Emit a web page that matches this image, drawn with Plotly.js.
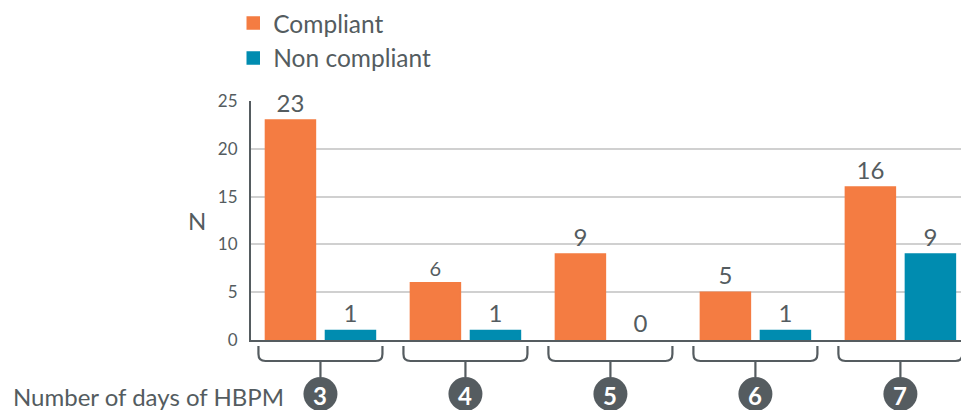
<!DOCTYPE html>
<html>
<head>
<meta charset="utf-8">
<script src="https://cdn.plot.ly/plotly-3.0.1.min.js"></script>
<style>html,body{margin:0;padding:0;background:#fff;}#chart{width:961px;height:410px;}</style>
</head>
<body>
<div id="chart"></div>
<script>
var categories = ['3', '4', '5', '6', '7'];
var compliant = [23, 6, 9, 5, 16];
var nonCompliant = [1, 1, 0, 1, 9];
var seriesNames = ['Compliant', 'Non compliant'];
var yTicks = [0, 5, 10, 15, 20, 25];

var FONT = 'Lato, "Open Sans", sans-serif';
var TXT = '#545c60';
var ORANGE = '#f47c42';
var TEAL = '#008cb0';

var compliantLabelSizes = [24, 20, 24, 24, 24];

function outlineWidths(vals) {
  return vals.map(function (v) { return v === 0 ? 0 : 1.5; });
}

var traces = [
  {
    type: 'bar', name: seriesNames[0], x: categories, y: compliant,
    marker: {color: ORANGE, line: {color: ORANGE, width: outlineWidths(compliant)}},
    text: compliant.map(String), textposition: 'outside', cliponaxis: false,
    textfont: {family: FONT, size: compliantLabelSizes, color: TXT},
    legendgroup: 'a', hoverinfo: 'none'
  },
  {
    type: 'bar', name: seriesNames[1], x: categories, y: nonCompliant,
    marker: {color: TEAL, line: {color: TEAL, width: outlineWidths(nonCompliant)}},
    text: nonCompliant.map(String), textposition: 'outside', cliponaxis: false,
    textfont: {family: FONT, size: 24, color: TXT},
    legendgroup: 'b', hoverinfo: 'none'
  }
];

var shapes = [];
var annotations = [];
categories.forEach(function (c, i) {
  shapes.push({
    type: 'path', xref: 'x', yref: 'paper', xsizemode: 'pixel', ysizemode: 'pixel',
    xanchor: i, yanchor: 0,
    path: 'M -62 -6 L -62 -14 Q -62 -21 -55 -21 L 55 -21 Q 62 -21 62 -14 L 62 -6 M 0 -21 L 0 -37',
    line: {color: '#555c60', width: 2.2}
  });
  shapes.push({
    type: 'circle', xref: 'x', yref: 'paper', xsizemode: 'pixel', ysizemode: 'pixel',
    xanchor: i, yanchor: 0, x0: -17, x1: 17, y0: -37, y1: -71,
    fillcolor: '#555c60', line: {width: 0}
  });
  annotations.push({
    xref: 'x', yref: 'paper', x: i, y: 0, yshift: -55, showarrow: false,
    text: '<b>' + c + '</b>', font: {family: FONT, size: 24, color: '#ffffff'},
    xanchor: 'center', yanchor: 'middle'
  });
});
annotations.push({
  xref: 'paper', yref: 'paper', x: 0, y: 0, xshift: -240, yshift: -56, showarrow: false,
  text: 'Number of days of HBPM', font: {family: FONT, size: 24, color: TXT},
  xanchor: 'left', yanchor: 'middle'
});
annotations.push({
  xref: 'paper', yref: 'paper', x: 0, y: 0.5, xshift: -54, showarrow: false,
  text: 'N', font: {family: FONT, size: 24, color: TXT},
  xanchor: 'center', yanchor: 'middle'
});

var layout = {
  width: 961, height: 410,
  margin: {l: 251, r: 0, t: 99, b: 70, pad: 0},
  paper_bgcolor: '#ffffff', plot_bgcolor: '#ffffff',
  barmode: 'group', bargap: 0.172, bargroupgap: 0.167,
  font: {family: FONT, color: TXT},
  showlegend: true,
  legend: {
    x: -0.025, xanchor: 'left', y: 1.42, yanchor: 'top', orientation: 'v',
    font: {family: FONT, size: 24.5, color: TXT}, tracegroupgap: 0,
    bgcolor: 'rgba(0,0,0,0)', itemclick: false
  },
  xaxis: {
    type: 'category', range: [-0.479, 4.418], showticklabels: false, ticks: '',
    showgrid: false, zeroline: false, showline: true, linecolor: '#555c60', linewidth: 2,
    fixedrange: true
  },
  yaxis: {
    range: [0, 25], tickvals: yTicks, ticktext: yTicks.map(String), ticks: '',
    tickfont: {family: FONT, size: 17, color: TXT}, ticklabelstandoff: 8,
    showgrid: true, gridcolor: '#d0d0d0', gridwidth: 2, zeroline: false,
    showline: true, linecolor: '#555c60', linewidth: 2, fixedrange: true
  },
  shapes: shapes,
  annotations: annotations
};

Plotly.newPlot('chart', traces, layout, {displayModeBar: false, staticPlot: true});
</script>
</body>
</html>
